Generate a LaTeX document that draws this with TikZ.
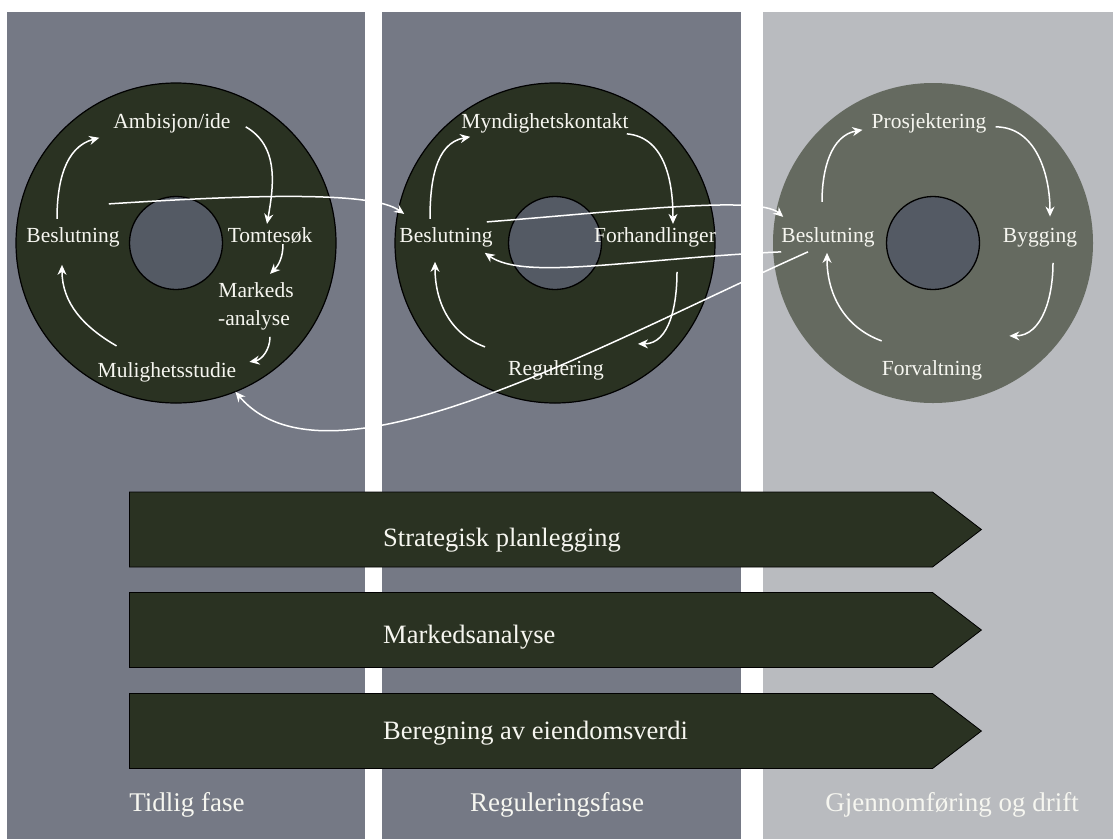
\documentclass[tikz,border=0pt]{standalone}
\usepackage{fontspec}
\setmainfont{Liberation Serif}
\usepackage{tikz}
\usetikzlibrary{positioning, calc, arrows.meta, shapes.symbols}
\definecolor{panel-dark}{RGB}{117,121,133}
\definecolor{panel-light}{RGB}{185,187,191}
\definecolor{ring-dark}{RGB}{42,50,34}
\definecolor{ring-grey}{RGB}{101,106,96}
\definecolor{hole-grey}{RGB}{84,90,100}
\definecolor{text-white}{RGB}{246,246,240}

\begin{document}
\begin{tikzpicture}[x=1pt, y=-1pt,
		panel/.style={anchor=north west, minimum height=827pt, inner sep=0pt},
		ring/.style={circle, minimum size=320pt, inner sep=0pt},
		hole/.style={circle, draw=black, line width=1.3pt, fill=hole-grey, minimum size=93pt, inner sep=0pt},
		ringtext/.style={text=text-white, font=\fontsize{21.5}{25}\selectfont, inner sep=1pt, anchor=base},
		flow/.style={draw=white, line width=1.5pt, -{Stealth[length=10pt, width=9pt]}},
		banner/.style={signal, signal to=east, signal pointer angle=75, draw=black, line width=0.8pt, fill=ring-dark, minimum width=852pt, minimum height=75pt, inner sep=0pt, anchor=west},
		bannertext/.style={text=text-white, font=\fontsize{26.5}{30}\selectfont, inner sep=0pt, anchor=base west},
		phasetext/.style={text=text-white, font=\fontsize{27}{30}\selectfont, inner sep=0pt, anchor=base}]
		\useasboundingbox (0,0) rectangle (1113,839);
		\fill[white] (0,0) rectangle (1113,839);
		
		% Draw the three phase columns
		\node (early) [panel, fill=panel-dark, minimum width=358pt] at (7,12) {};
		\node (zoning) [panel, fill=panel-dark, minimum width=359pt] at (382,12) {};
		\node (realise) [panel, fill=panel-light, minimum width=350pt] at (763,12) {};
		
		% Draw the rings
		\node (ring1) [ring, draw=black, line width=1.2pt, fill=ring-dark] at (176,243) {};
		\node (ring2) [ring, draw=black, line width=1.2pt, fill=ring-dark] at (555,243) {};
		\node (ring3) [ring, fill=ring-grey] at (933,243) {};
		\node (hole1) [hole] at (ring1) {};
		\node (hole2) [hole] at (ring2) {};
		\node (hole3) [hole] at (ring3) {};
		
		% Draw the long-running activities
		\node (strat) [banner] at (129,529.5) {};
		\node (market) [banner] at (129,630) {};
		\node (value) [banner] at (129,731) {};
		\node (strattext) [bannertext] at ($(strat.west)+(254,16.5)$) {Strategisk planlegging};
		\node (markettext) [bannertext] at ($(market.west)+(254,13)$) {Markedsanalyse};
		\node (valuetext) [bannertext] at ($(value.west)+(254,8)$) {Beregning av eiendomsverdi};
		
		% Draw the phase names
		\node (earlytext) [phasetext] at (187,811) {Tidlig fase};
		\node (zoningtext) [phasetext] at (557,811) {Reguleringsfase};
		\node (realisetext) [phasetext] at (952,811) {Gjennomføring og drift};
		
		% Draw the labels of the first ring
		\node (amb) [ringtext] at (172,128) {Ambisjon/ide};
		\node (besl1) [ringtext] at (73,242) {Beslutning};
		\node (tomt) [ringtext] at (270,242) {Tomtesøk};
		\node (markeds) [ringtext] at (256,297) {Markeds};
		\node (analyse) [ringtext] at (254,325) {-analyse};
		\node (mul) [ringtext] at (167,377) {Mulighetsstudie};
		
		% Draw the labels of the second ring
		\node (mynd) [ringtext] at (545,128) {Myndighetskontakt};
		\node (besl2) [ringtext] at (446,242) {Beslutning};
		\node (forh) [ringtext] at (655,242) {Forhandlinger};
		\node (reg) [ringtext] at (556,375) {Regulering};
		
		% Draw the labels of the third ring
		\node (pros) [ringtext] at (929,128) {Prosjektering};
		\node (besl3) [ringtext] at (828,242) {Beslutning};
		\node (bygg) [ringtext] at (1040,242) {Bygging};
		\node (forv) [ringtext] at (932,375) {Forvaltning};
		
		% Connect the steps of the first ring
		\draw[flow] ($(besl1.north)+(-16,-7)$) to[out=90, in=195] ($(amb.south west)+(-13,4)$);
		\draw[flow] ($(amb.east)+(14,4)$) to[out=-30, in=80] ($(tomt.north)+(-3,-2)$);
		\draw[flow] ($(tomt.south)+(13,0)$) to[out=-90, in=45] ($(markeds.north)+(14,-7)$);
		\draw[flow] ($(analyse.south)+(16,6)$) to[out=-90, in=10] ($(mul.north east)+(12,1)$);
		\draw[flow] ($(mul.north west)+(20,-15)$) to[out=150, in=-90] ($(besl1.south)+(-11,17)$);
		
		% Connect the steps of the second ring
		\draw[flow] ($(besl2.north)+(-16,-7)$) to[out=90, in=190] ($(mynd.south west)+(10,3)$);
		\draw[flow] ($(mynd.south east)+(-3,0)$) to[out=-5, in=90] ($(forh.north)+(18,-2)$);
		\draw[flow] ($(forh.south)+(22,24)$) to[out=-90, in=0] ($(reg.north east)+(33,-15)$);
		\draw[flow] ($(reg.north west)+(-22,-12)$) to[out=160, in=-90] ($(besl2.south)+(-11,14)$);
		
		% Connect the steps of the third ring
		\draw[flow] ($(besl3.north)+(-6,-24)$) to[out=90, in=190] ($(pros.south west)+(-8,-4)$);
		\draw[flow] ($(pros.east)+(8,4)$) to[out=0, in=90] ($(bygg.north)+(10,-10)$);
		\draw[flow] ($(bygg.south)+(13,15)$) to[out=-90, in=0] ($(forv.north east)+(26,-23)$);
		\draw[flow] ($(forv.north west)+(1,-18)$) to[out=160, in=-90] ($(besl3.south)+(-1,5)$);
		
		% Draw the arrows between the rings
		\draw[flow] ($(besl1.north east)+(-12,-22)$) .. controls +(140,-9) and +(-33,-23) .. ($(besl2.north west)+(6,-12)$);
		\draw[flow] ($(besl2.north east)+(-7,-4)$) .. controls +(130,-10) and +(-25,-22) .. ($(besl3.north west)+(3,-9)$);
		\draw[flow] ($(besl3.south west)+(1,4)$) .. controls +(-150,7) and +(40,28) .. ($(besl2.south east)+(-9,5)$);
		\draw[flow] ($(besl3.south)+(-20,4)$) .. controls +(-208,93) and +(92,108) .. ($(mul.south east)+(-2,9)$);
\end{tikzpicture}
\end{document}
